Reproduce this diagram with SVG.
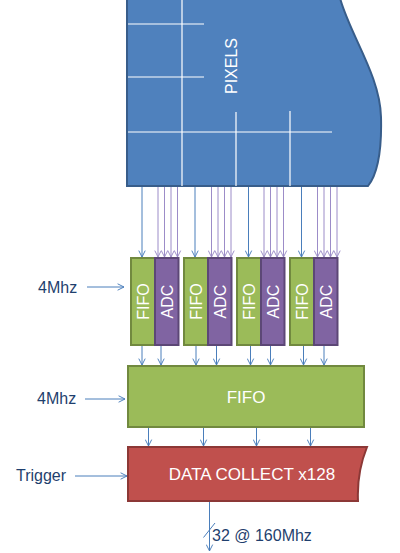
<svg xmlns="http://www.w3.org/2000/svg" width="400" height="553" viewBox="0 0 400 553">
<defs>
<style>
.lbl{font-family:"Liberation Sans",Arial,sans-serif;font-size:16px;fill:#1f3f6e}
.wt{font-family:"Liberation Sans",Arial,sans-serif;fill:#ffffff;text-anchor:middle;dominant-baseline:central}
.grid{stroke:#ffffff;stroke-width:1.2;fill:none}
.fifo{fill:#9BBB59;stroke:#71893F;stroke-width:2}
.adc{fill:#8064A2;stroke:#5C4776;stroke-width:2}
.b{stroke:#4A7EBB;stroke-width:1;fill:none;marker-end:url(#ab)}
.p{stroke:#9C8CC8;stroke-width:1;fill:none;marker-end:url(#ap)}
</style>
<marker id="ab" viewBox="0 0 10 10" refX="9" refY="5" markerWidth="8" markerHeight="8" orient="auto" markerUnits="userSpaceOnUse">
<path d="M1,1 L9,5 L1,9" fill="none" stroke="#4A7EBB" stroke-width="1.2"/>
</marker>
<marker id="ap" viewBox="0 0 10 10" refX="9" refY="5" markerWidth="8" markerHeight="8" orient="auto" markerUnits="userSpaceOnUse">
<path d="M1,1 L9,5 L1,9" fill="none" stroke="#9C8CC8" stroke-width="1.2"/>
</marker>
</defs>

<g id="pixels">
<path d="M127,-2 L340,-2 C350,35 380,75 381,117 C382,155 376,176 368,186 L127,186 Z" fill="#4F81BD" stroke="#385D8A" stroke-width="2"/>
<line class="grid" x1="182" y1="0" x2="182" y2="186"/>
<line class="grid" x1="128" y1="24" x2="204" y2="24"/>
<line class="grid" x1="128" y1="77" x2="204" y2="77"/>
<line class="grid" x1="128" y1="132" x2="332" y2="132"/>
<line class="grid" x1="236" y1="112" x2="236" y2="186"/>
<line class="grid" x1="290" y1="111" x2="290" y2="186"/>
<text class="wt" x="0" y="0" font-size="16" fill="#e6eef8" transform="translate(231,66) rotate(-90)">PIXELS</text>
</g>

<g id="col1">
<rect class="fifo" x="131" y="258" width="24" height="87"/>
<rect class="adc" x="155" y="258" width="23.5" height="87"/>
<text class="wt" font-size="16" transform="translate(143,301.5) rotate(-90)">FIFO</text>
<text class="wt" font-size="16" transform="translate(167,301.5) rotate(-90)">ADC</text>
</g>
<g id="col2">
<rect class="fifo" x="184" y="258" width="24" height="87"/>
<rect class="adc" x="208" y="258" width="23.5" height="87"/>
<text class="wt" font-size="16" transform="translate(196,301.5) rotate(-90)">FIFO</text>
<text class="wt" font-size="16" transform="translate(220,301.5) rotate(-90)">ADC</text>
</g>
<g id="col3">
<rect class="fifo" x="237" y="258" width="24" height="87"/>
<rect class="adc" x="261" y="258" width="23.5" height="87"/>
<text class="wt" font-size="16" transform="translate(249,301.5) rotate(-90)">FIFO</text>
<text class="wt" font-size="16" transform="translate(273,301.5) rotate(-90)">ADC</text>
</g>
<g id="col4">
<rect class="fifo" x="290" y="258" width="24" height="87"/>
<rect class="adc" x="314" y="258" width="23.5" height="87"/>
<text class="wt" font-size="16" transform="translate(302,301.5) rotate(-90)">FIFO</text>
<text class="wt" font-size="16" transform="translate(326,301.5) rotate(-90)">ADC</text>
</g>

<g id="fifo-main">
<rect class="fifo" x="128" y="366" width="236" height="61"/>
<text class="wt" x="246" y="397" font-size="17">FIFO</text>
</g>

<g id="data-collect">
<path d="M128,447 L367,447 C361,462 357,480 358,501 L128,501 Z" fill="#C0504D" stroke="#8C3836" stroke-width="2"/>
<text class="wt" x="252" y="474" font-size="17">DATA COLLECT x128</text>
</g>

<g id="labels">
<text class="lbl" x="38" y="293">4Mhz</text>
<text class="lbl" x="37" y="404">4Mhz</text>
<text class="lbl" x="16" y="481">Trigger</text>
<text class="lbl" x="212" y="541" font-size="15">32 @ 160Mhz</text>
</g>

<g id="connectors">
<line class="b" x1="87" y1="287" x2="124" y2="287"/>
<line class="b" x1="85" y1="399" x2="125" y2="399"/>
<line class="b" x1="75" y1="476" x2="127" y2="476"/>

<line class="b" x1="142" y1="187" x2="142" y2="257"/>
<line class="p" x1="158" y1="187" x2="158" y2="257"/>
<line class="p" x1="164.5" y1="187" x2="164.5" y2="257"/>
<line class="p" x1="171" y1="187" x2="171" y2="257"/>
<line class="p" x1="177.5" y1="187" x2="177.5" y2="257"/>

<line class="b" x1="195" y1="187" x2="195" y2="257"/>
<line class="p" x1="211.5" y1="187" x2="211.5" y2="257"/>
<line class="p" x1="218" y1="187" x2="218" y2="257"/>
<line class="p" x1="224.5" y1="187" x2="224.5" y2="257"/>
<line class="p" x1="231" y1="187" x2="231" y2="257"/>

<line class="b" x1="248.5" y1="187" x2="248.5" y2="257"/>
<line class="p" x1="264" y1="187" x2="264" y2="257"/>
<line class="p" x1="270.5" y1="187" x2="270.5" y2="257"/>
<line class="p" x1="277" y1="187" x2="277" y2="257"/>
<line class="p" x1="283.5" y1="187" x2="283.5" y2="257"/>

<line class="b" x1="301.5" y1="187" x2="301.5" y2="257"/>
<line class="p" x1="317.5" y1="187" x2="317.5" y2="257"/>
<line class="p" x1="324" y1="187" x2="324" y2="257"/>
<line class="p" x1="330.5" y1="187" x2="330.5" y2="257"/>
<line class="p" x1="337" y1="187" x2="337" y2="257"/>

<line class="b" x1="142" y1="346" x2="142" y2="365"/>
<line class="b" x1="161" y1="346" x2="161" y2="365"/>
<line class="b" x1="196" y1="346" x2="196" y2="365"/>
<line class="b" x1="216.5" y1="346" x2="216.5" y2="365"/>
<line class="b" x1="250.5" y1="346" x2="250.5" y2="365"/>
<line class="b" x1="270.5" y1="346" x2="270.5" y2="365"/>
<line class="b" x1="303.5" y1="346" x2="303.5" y2="365"/>
<line class="b" x1="324" y1="346" x2="324" y2="365"/>

<line class="b" x1="148.5" y1="428" x2="148.5" y2="446"/>
<line class="b" x1="203.5" y1="428" x2="203.5" y2="446"/>
<line class="b" x1="256.5" y1="428" x2="256.5" y2="446"/>
<line class="b" x1="310.5" y1="428" x2="310.5" y2="446"/>

<line class="b" x1="209.5" y1="502" x2="209.5" y2="551"/>
<line x1="203.5" y1="537.5" x2="215" y2="523" stroke="#4A7EBB" stroke-width="1"/>
</g>
</svg>
